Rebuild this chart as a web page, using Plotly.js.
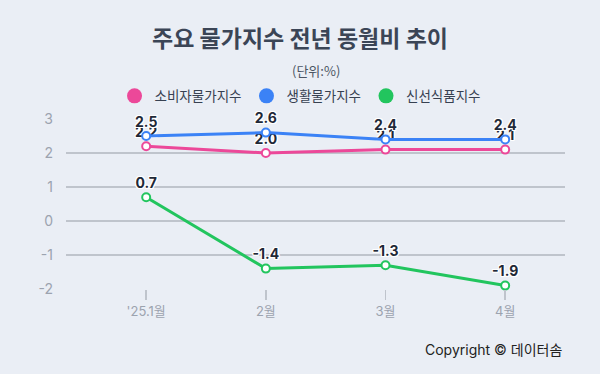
<!DOCTYPE html>
<html><head><meta charset="utf-8">
<script src="https://cdn.plot.ly/plotly-3.0.1.min.js"></script>
<style>html,body{margin:0;padding:0;background:#eaeef5;}</style>
</head><body>
<div id="chart" style="width:600px;height:374px;"></div>
<script>
const categories = ["'25.1월", "2월", "3월", "4월"];
const seriesNames = ["소비자물가지수", "생활물가지수", "신선식품지수"];
const cpi = [2.2, 2.0, 2.1, 2.1];
const living = [2.5, 2.6, 2.4, 2.4];
const fresh = [0.7, -1.4, -1.3, -1.9];
const colors = ["#ec4899", "#3b82f6", "#22c55e"];
const yTicks = [-2, -1, 0, 1, 2, 3];
const yTickText = ["-2", "-1", "0", "1", "2", "3"];

const font = "Inter, Noto Sans CJK KR, sans-serif";
const krFont = "Noto Sans CJK KR, Inter, sans-serif";
const shadow = "1px 1px 0 #fff, -1px -1px 0 #fff, 1px -1px 0 #fff, -1px 1px 0 #fff, 0 1px 0 #fff, 0 -1px 0 #fff, 1px 0 0 #fff, -1px 0 0 #fff";
const xIdx = categories.map((c, i) => i);

function dataTrace(vals, color) {
  return {
    x: xIdx, y: vals, type: 'scatter', mode: 'lines+markers+text',
    text: vals.map(v => v.toFixed(1)), textposition: 'top center',
    textfont: {family: font, size: 14, color: '#1f2937', weight: 700, shadow: shadow},
    line: {color: color, width: 3},
    marker: {size: 8, color: '#ffffff', line: {color: color, width: 2}},
    cliponaxis: false, showlegend: false, hoverinfo: 'skip'
  };
}
function legendTrace(name, color) {
  return {x: [null], y: [null], type: 'scatter', mode: 'markers', name: name,
    marker: {size: 15, color: color}, showlegend: true};
}
const traces = [
  dataTrace(fresh, colors[2]),
  dataTrace(cpi, colors[0]),
  dataTrace(living, colors[1]),
  legendTrace(seriesNames[0], colors[0]),
  legendTrace(seriesNames[1], colors[1]),
  legendTrace(seriesNames[2], colors[2])
];

const layout = {
  width: 600, height: 374,
  paper_bgcolor: '#eaeef5', plot_bgcolor: '#eaeef5',
  margin: {l: 66, r: 35, t: 119, b: 85},
  font: {family: font},
  title: {text: '<b>주요 물가지수 전년 동월비 추이</b>', x: 0.5, xanchor: 'center', y: 0.895, yanchor: 'middle',
    font: {family: krFont, size: 23, color: '#3b4556'}},
  xaxis: {
    range: [-0.67, 3.5], tickvals: xIdx, ticktext: categories,
    showgrid: false, zeroline: false, showline: false,
    ticks: 'outside', ticklen: 10, tickwidth: 1.5, tickcolor: '#bfc4cc',
    tickfont: {family: font, size: 13, color: '#9ca3af'}, fixedrange: true
  },
  yaxis: {
    range: [-2, 3], tickvals: yTicks, ticktext: yTickText, showgrid: true, gridcolor: '#bfc4cc', gridwidth: 1.5,
    zeroline: false, showline: false, ticklabelstandoff: 12,
    tickfont: {family: font, size: 14, color: '#9ca3af'}, fixedrange: true
  },
  legend: {orientation: 'h', x: 0.47, xanchor: 'center', y: 1.135, yanchor: 'middle',
    font: {family: krFont, size: 13.5, color: '#374151'}, bgcolor: 'rgba(0,0,0,0)',
    itemwidth: 30, traceorder: 'normal'},
  annotations: [
    {text: '(단위:%)', xref: 'paper', yref: 'paper', x: 0.5, y: 1.285, xanchor: 'center', yanchor: 'middle',
     showarrow: false, font: {family: krFont, size: 13, color: '#4b5563'}},
    {text: 'Copyright © 데이터솜', xref: 'paper', yref: 'paper', x: 0.997, y: -0.355, xanchor: 'right', yanchor: 'middle',
     showarrow: false, font: {family: font, size: 14, color: '#222222'}}
  ]
};
Plotly.newPlot('chart', traces, layout, {displayModeBar: false, staticPlot: true});
</script>
</body></html>
